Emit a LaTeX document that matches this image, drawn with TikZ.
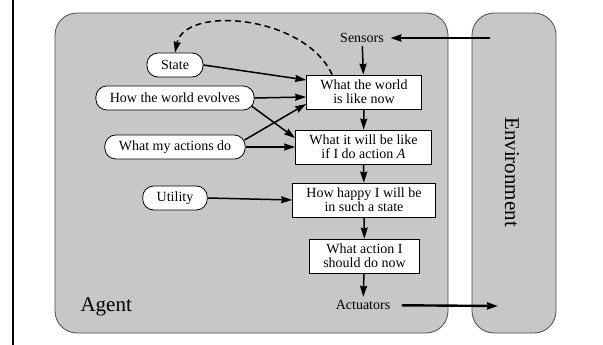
\documentclass[tikz,border=0pt]{standalone}
\usepackage{fontspec}
\setmainfont{Liberation Serif}
\usetikzlibrary{calc}
\usetikzlibrary{arrows.meta}

\begin{document}
\begin{tikzpicture}[x=1pt, y=-1pt, >={Stealth[length=11pt,width=7pt,inset=1pt]},
  font=\fontsize{14}{14}\selectfont,
  every part/.style={draw=black!70, fill=black!22, line width=0.8pt, rounded corners=22pt},
  every oval/.style={draw, fill=white, line width=0.8pt, rounded corners=11pt,
    minimum height=24pt, inner xsep=14pt, inner ysep=0pt},
  every box/.style={draw, fill=white, line width=0.7pt, align=center,
    minimum height=34pt, inner xsep=14pt, inner ysep=2pt},
  flow/.style={->, line width=1.5pt}]
\useasboundingbox (0,0) rectangle (603,345);
\draw[line width=1.6pt] (13,0) -- (13,345);

% agent and environment
\draw[every part/.try] (55,13) rectangle (448,333);
\draw[every part/.try] (472,13) rectangle (556,333);
\node[font=\fontsize{21}{21}\selectfont, anchor=base west] (agent) at (77,311) {Agent};
\node[font=\fontsize{21}{21}\selectfont, rotate=-90] (env) at (512,172) {Environment};

% sensors, actuators
\node (sensors) at (362,38) {Sensors};
\node (actuators) at (363,305) {Actuators};
\coordinate (env-in) at (490,38);
\coordinate (env-out) at (498,306);

% middle column
\node [every box/.try] (world) at (364,92) {What the world\\is like now};
\node [every box/.try] (willbe) at (363.5,147) {What it will be like\\if I do action \textit{A}};
\node [every box/.try] (happy) at (364,200) {How happy I will be\\in such a state};
\node [every box/.try] (action) at (364.5,256) {What action I\\should do now};

% left column
\foreach \m/\l/\y in {state/State/65, evolves/How the world evolves/98,
    mydo/What my actions do/147, utility/Utility/198}
  \node [every oval/.try] (\m) at (175,\y) {\l};

\draw [flow, line width=2.4pt, shorten >=3pt] (env-in) -- (sensors);
\draw [flow, line width=2.4pt, shorten <=8pt] (actuators) -- (env-out);

\foreach \a/\b in {sensors/world, world/willbe, willbe/happy, happy/action, action/actuators}
  \draw [flow] (\a) -- (\b);

\draw [flow] (state.east) -- ($(world.west)+(0,-12)$);
\draw [flow] (evolves.east) -- ($(world.west)+(0,5)$);
\draw [flow] ($(evolves.east)+(-3,8)$) -- ($(willbe.west)+(0,-9)$);
\draw [flow] ($(mydo.east)+(-1,-7)$) -- ($(world.west)+(0,12)$);
\draw [flow] (mydo.east) -- (willbe.west);
\draw [flow] (utility.east) -- (happy.west);

\draw [flow, dashed, dash pattern=on 6pt off 4pt] ($(world.north west)+(26,0)$)
  .. controls (305,15) and (185,5) .. (state.north);
\end{tikzpicture}
\end{document}
